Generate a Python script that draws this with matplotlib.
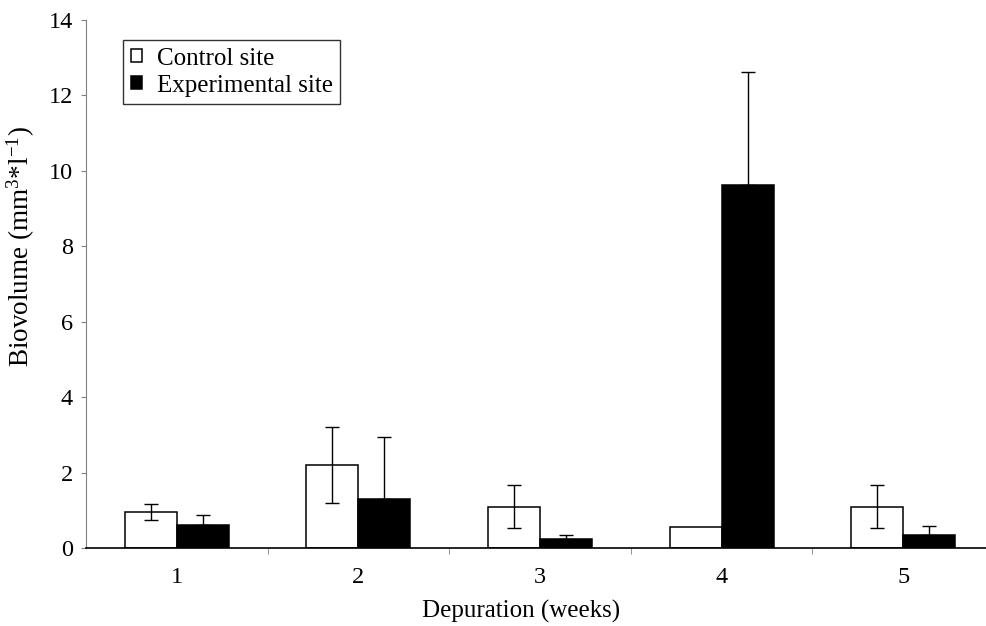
import numpy as np
import matplotlib
matplotlib.use('Agg')
import matplotlib.pyplot as plt

# 数据
weeks = ['1', '2', '3', '4', '5']
control = [0.95, 2.20, 1.10, 0.565, 1.10]
control_err = [0.22, 1.00, 0.58, 0.0, 0.57]
experimental = [0.60, 1.31, 0.25, 9.63, 0.34]
experimental_err = [0.27, 1.63, 0.10, 3.00, 0.25]

plt.rcParams['font.family'] = ['Liberation Serif', 'DejaVu Serif']
plt.rcParams['mathtext.fontset'] = 'custom'
plt.rcParams['mathtext.rm'] = 'Liberation Serif'
plt.rcParams['mathtext.it'] = 'Liberation Serif'
plt.rcParams['font.size'] = 18

fig = plt.figure(figsize=(9.86, 6.26), dpi=100)
ax = fig.add_axes([86 / 986, 78 / 626, 908 / 986, 528 / 626])

x = np.arange(1, len(weeks) + 1)
w = 0.286

ax.bar(x - w / 2, control, w, color='white', edgecolor='black', linewidth=1.1,
       label='Control site', zorder=2)
ax.bar(x + w / 2, experimental, w, color='black', edgecolor='black', linewidth=1.1,
       label='Experimental site', zorder=2)

# 对照组：双向误差棒（误差为0的不画）
cx = [xi - w / 2 for xi, e in zip(x, control_err) if e > 0]
cy = [v for v, e in zip(control, control_err) if e > 0]
ce = [e for e in control_err if e > 0]
ax.errorbar(cx, cy, yerr=ce, fmt='none', ecolor='black', elinewidth=1,
            capsize=5, capthick=1, zorder=3)
# 实验组：只画上半部分
ax.errorbar(x + w / 2, experimental, yerr=[np.zeros(len(x)), experimental_err],
            fmt='none', ecolor='black', elinewidth=1, capsize=5, capthick=1, zorder=3)

ax.set_xlim(0.5, 5.5)
ax.set_ylim(0, 14)
ax.set_yticks(range(0, 15, 2))
ax.set_xticks(x)
ax.set_xticklabels(weeks)
ax.set_xticks(np.arange(1.5, 5.5, 1), minor=True)
ax.tick_params(axis='x', which='major', length=0, pad=14, labelsize=17.5)
ax.tick_params(axis='x', which='minor', length=4, direction='out', color='gray')
ax.tick_params(axis='y', length=3.5, direction='out', color='gray', pad=6,
               labelsize=17.5)

ax.spines['top'].set_visible(False)
ax.spines['right'].set_visible(False)
ax.spines['left'].set_color('gray')
ax.spines['bottom'].set_color('black')
ax.spines['bottom'].set_linewidth(1.2)

ax.set_xlabel('Depuration (weeks)')
ax.xaxis.set_label_coords((521 - 86) / 908, -0.098, transform=ax.transAxes)
ax.xaxis.label.set_va('top')
ax.set_ylabel(r'Biovolume (mm$^{3}$*l$^{\mathrm{-1}}$)', fontsize=19.5)
ax.yaxis.set_label_coords((37 - 86) / 908, (548 - 247) / 528)

leg = ax.legend(loc='upper left', bbox_to_anchor=(0.041, 0.962), frameon=True,
                fancybox=False, edgecolor='black', handlelength=0.45,
                handleheight=0.45, handletextpad=0.6, borderpad=0.3,
                labelspacing=0.2, borderaxespad=0)
leg.get_frame().set_linewidth(1.0)

fig.savefig('out.png', dpi=100)
